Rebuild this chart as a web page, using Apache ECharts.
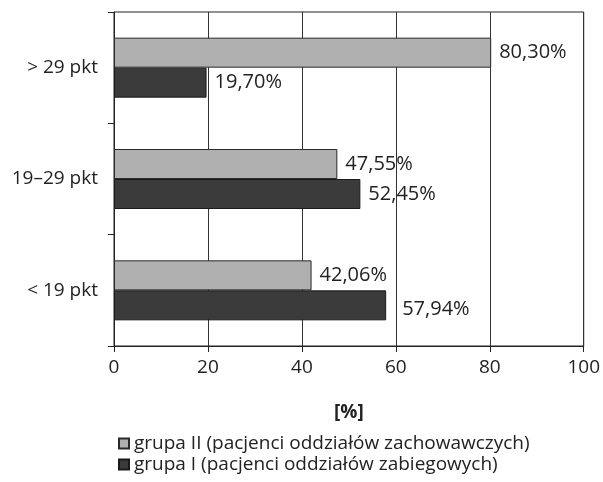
<!DOCTYPE html>
<html><head><meta charset="utf-8">
<script src="https://cdn.jsdelivr.net/npm/echarts@6/dist/echarts.min.js"></script>
<style>html,body{margin:0;padding:0;background:#fff}#c{width:603px;height:482px}</style>
</head><body><div id="c"></div>
<script>
const categories = ['< 19 pkt', '19–29 pkt', '> 29 pkt'];
const seriesNames = ['grupa II (pacjenci oddziałów zachowawczych)', 'grupa I (pacjenci oddziałów zabiegowych)'];
const grupaII = [42.06, 47.55, 80.30];
const grupaI = [57.94, 52.45, 19.70];
const xTicks = [0, 20, 40, 60, 80, 100];

const FONT = 'Open Sans';
const FS = 19;
const fmt = p => p.value.toFixed(2).replace('.', ',') + '%';
const lbl = {show: true, position: 'right', distance: 8, formatter: fmt, color: '#222', fontSize: 20, fontFamily: FONT};

const chart = echarts.init(document.getElementById('c'), null, {renderer: 'canvas'});
chart.setOption({
  animation: false,
  backgroundColor: '#fff',
  textStyle: {fontFamily: FONT},
  grid: {left: 114, right: 19, top: 12, bottom: 136, show: true, borderColor: '#222', borderWidth: 1},
  xAxis: {
    type: 'value', min: 0, max: 100, interval: 20,
    name: '[%]', nameLocation: 'middle', nameGap: 57,
    nameTextStyle: {fontSize: FS, fontWeight: 'bold', color: '#222', fontFamily: FONT},
    axisLine: {show: true, lineStyle: {color: '#222'}},
    axisTick: {show: true, length: 6, lineStyle: {color: '#222'}},
    axisLabel: {fontSize: FS, color: '#222', margin: 12, fontFamily: FONT},
    splitLine: {show: true, lineStyle: {color: '#333', width: 1}}
  },
  yAxis: {
    type: 'category', data: categories,
    axisLine: {show: true, lineStyle: {color: '#222'}},
    axisTick: {show: true, length: 6, lineStyle: {color: '#222'}},
    axisLabel: {fontSize: FS, color: '#222', margin: 16, fontFamily: FONT},
    splitLine: {show: false}
  },
  legend: {
    orient: 'vertical', left: 113, top: 429, itemGap: 2,
    icon: 'rect', itemWidth: 10, itemHeight: 10,
    data: [seriesNames[0], seriesNames[1]],
    textStyle: {fontSize: FS, color: '#222', fontFamily: FONT, padding: [0, 0, 0, 0]}
  },
  series: [
    {
      name: seriesNames[0], type: 'bar', data: grupaII,
      barWidth: 30, barGap: '0%',
      itemStyle: {color: '#b0b0b0', borderColor: '#2a2a2a', borderWidth: 1},
      label: lbl
    },
    {
      name: seriesNames[1], type: 'bar', data: grupaI.map((v, i) => i === 0 ? {value: v, label: {offset: [8, 4]}} : v),
      barWidth: 30, barGap: '0%',
      itemStyle: {color: '#3b3b3b', borderColor: '#1a1a1a', borderWidth: 1},
      label: lbl
    }
  ]
});
</script></body></html>
